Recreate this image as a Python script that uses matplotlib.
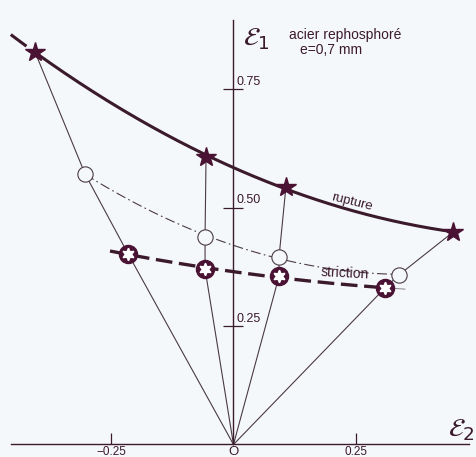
"""Forming limit diagram, acier rephosphoré e=0,7 mm (scanned figure redrawn)."""
import numpy as np
import matplotlib
matplotlib.use("Agg")
import matplotlib.pyplot as plt

plt.rcParams["font.family"] = ["Liberation Sans", "DejaVu Sans"]
plt.rcParams["mathtext.fontset"] = "dejavusans"

# strain points (eps2, eps1), one per strain path
rupture_e2 = [-0.405, -0.056, 0.107, 0.448]
rupture_e1 = [0.828, 0.607, 0.543, 0.448]
circle_e2 = [-0.303, -0.058, 0.093, 0.338]
circle_e1 = [0.571, 0.438, 0.396, 0.358]
striction_e2 = [-0.215, -0.058, 0.093, 0.309]
striction_e1 = [0.402, 0.370, 0.355, 0.330]

xtick_vals = [-0.25, 0.25]
xtick_labels = ["\u22120.25", "0.25"]
ytick_vals = [0.25, 0.50, 0.75]
ytick_labels = ["0.25", "0.50", "0.75"]

BG = "#f5f8fb"
INK = "#3b1a2c"
STAR = "#4a1233"
THIN = "#4a3a44"

fig = plt.figure(figsize=(4.77, 4.57), dpi=100, facecolor=BG)
ax = fig.add_axes([0, 0, 1, 1], facecolor=BG)
ax.set_xlim(-0.4765, 0.497)
ax.set_ylim(-0.0264, 0.9378)

# axes drawn through the origin
for s in ["top", "right"]:
    ax.spines[s].set_visible(False)
ax.spines["left"].set_position(("data", 0))
ax.spines["bottom"].set_position(("data", 0))
ax.spines["left"].set_bounds(0, 0.895)
ax.spines["bottom"].set_bounds(-0.455, 0.48)
for s in ["left", "bottom"]:
    ax.spines[s].set_color(INK)
    ax.spines[s].set_linewidth(1.0)

ax.set_yticks(ytick_vals)
ax.tick_params(axis="y", direction="inout", length=14, width=0.9,
               color=INK, labelleft=False)
ax.set_xticks(xtick_vals, xtick_labels)
ax.tick_params(axis="x", direction="in", length=8, width=0.9, color=INK,
               labelsize=8.5, labelcolor=INK, pad=1)
for v, lab in zip(ytick_vals, ytick_labels):
    ax.text(0.007, v + 0.003, lab, fontsize=9, color=INK, ha="left", va="bottom")
ax.text(0.0, -0.016, "O", fontsize=9.5, color=INK, ha="center", va="center")

# strain paths from the origin through striction, circle and rupture points
for i in range(len(rupture_e2)):
    ax.plot([0, striction_e2[i], circle_e2[i], rupture_e2[i]],
            [0, striction_e1[i], circle_e1[i], rupture_e1[i]],
            color=THIN, lw=0.8, zorder=2)

# rupture curve (quadratic fit through the rupture points)
cr = np.polyfit(rupture_e2, rupture_e1, 2)
xr = np.linspace(rupture_e2[0], rupture_e2[-1], 200)
ax.plot(xr, np.polyval(cr, xr), color=INK, lw=2.2, zorder=3)
xe = np.linspace(-0.452, -0.425, 10)
ax.plot(xe, np.polyval(cr, xe), color=INK, lw=2.2, zorder=3)

# dash-dot curve through the open circles
cc = np.polyfit(circle_e2, circle_e1, 2)
xc = np.linspace(circle_e2[0], 0.35, 200)
ax.plot(xc, np.polyval(cc, xc), color=THIN, lw=0.8,
        dashes=(9, 3, 1.5, 3), zorder=2)

# striction curve
cs = np.polyfit(striction_e2, striction_e1, 2)
xs = np.linspace(-0.252, striction_e2[-1], 200)
ax.plot(xs, np.polyval(cs, xs), color=INK, lw=2.4, dashes=(5, 2), zorder=3)
xs2 = np.linspace(striction_e2[-1], 0.35, 20)
ax.plot(xs2, np.polyval(cs, xs2), color="#8a8088", lw=0.7, zorder=2)

# markers
ax.plot(rupture_e2, rupture_e1, ls="none", marker="*", ms=15,
        color=STAR, mec=STAR, zorder=5)
ax.plot(circle_e2, circle_e1, ls="none", marker="o", ms=11,
        mfc=BG, mec=THIN, mew=0.8, zorder=5)
ax.plot(striction_e2, striction_e1, ls="none", marker="o", ms=13,
        mfc=STAR, mec=STAR, zorder=5)
ax.plot(striction_e2, striction_e1, ls="none", marker=(6, 1, 0), ms=9,
        mfc="white", mec="white", zorder=6)

# labels
ax.text(0.02, 0.855, r"$\mathcal{E}_1$", fontsize=19, color=INK,
        ha="left", va="center")
ax.text(0.465, 0.03, r"$\mathcal{E}_2$", fontsize=19, color=INK,
        ha="center", va="center")
ax.text(0.113, 0.865, "acier rephosphoré", fontsize=10, color=INK,
        ha="left", va="center")
ax.text(0.2, 0.832, "e=0,7 mm", fontsize=10, color=INK,
        ha="center", va="center")
ax.text(0.242, 0.512, "rupture", fontsize=9.5, color=INK, rotation=-14,
        ha="center", va="center")
ax.text(0.228, 0.362, "striction", fontsize=10, color=INK, rotation=-3,
        ha="center", va="center")

fig.savefig("out.png", dpi=100, facecolor=BG)
